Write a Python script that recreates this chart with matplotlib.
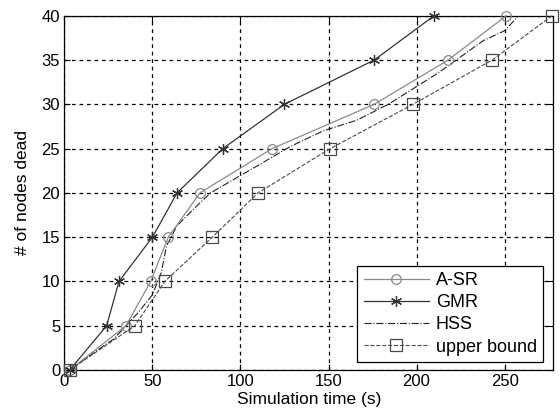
import matplotlib
matplotlib.use("Agg")
import matplotlib.pyplot as plt

plt.rcParams["font.family"] = ["Liberation Sans", "DejaVu Sans"]

# data
asr_t = [3, 35, 49, 59, 77, 118, 176, 218, 251]
asr_n = [0, 5, 10, 15, 20, 25, 30, 35, 40]

gmr_t = [3, 24, 31, 50, 64, 90, 125, 176, 210]
gmr_n = [0, 5, 10, 15, 20, 25, 30, 35, 40]

hss_t = [3, 17, 28, 42, 50, 55, 58, 64, 74, 83, 110, 128, 147, 166, 184, 212, 238, 250, 258]
hss_n = [0, 2, 3.5, 6.5, 8.5, 11, 14, 16.3, 18.3, 20, 23.1, 25.2, 27, 28.2, 30, 33.5, 37.2, 38.3, 40]

ub_t = [3, 40, 57, 84, 110, 151, 198, 243, 277]
ub_n = [0, 5, 10, 15, 20, 25, 30, 35, 40]

fig = plt.figure(figsize=(5.6, 4.2), dpi=100)
ax = fig.add_axes([0.115, 0.119, 0.8725, 0.8436])

ax.plot(asr_t, asr_n, "-", color="#8a8a8a", lw=0.9, marker="o", ms=7,
        mfc="none", mec="#8a8a8a", mew=0.9, label="A-SR", clip_on=False, zorder=4)
ax.plot(gmr_t, gmr_n, "-", color="#333333", lw=0.9, marker=(6, 2, 0), ms=8,
        mec="#333333", mew=0.9, label="GMR", clip_on=False, zorder=4)
ax.plot(hss_t, hss_n, "-.", color="#222222", lw=0.8, label="HSS", zorder=3)
ax.plot(ub_t, ub_n, "--", color="#4a4a4a", lw=0.8, marker="s", ms=8,
        mfc="none", mec="#4a4a4a", mew=0.9, label="upper bound", clip_on=False, zorder=4)

ax.set_xlim(0, 277.5)
ax.set_ylim(0, 40)
ax.set_xticks([0, 50, 100, 150, 200, 250])
ax.set_yticks(range(0, 41, 5))
ax.grid(True, color="black", linestyle=(0, (3, 3)), linewidth=0.9)
ax.tick_params(direction="in", top=True, right=True, length=4, labelsize=12, pad=3)
for s in ax.spines.values():
    s.set_linewidth(0.9)

ax.set_xlabel("Simulation time (s)", fontsize=12.5, labelpad=2)
ax.set_ylabel("# of nodes dead", fontsize=12.5, labelpad=8)

leg = ax.legend(loc="lower right", bbox_to_anchor=(0.98, 0.023), borderaxespad=0,
                fontsize=13, fancybox=False, framealpha=1, edgecolor="black",
                handlelength=3.6, labelspacing=0.28, handletextpad=0.4,
                borderpad=0.35)
leg.get_frame().set_linewidth(0.9)

fig.savefig("out.png", dpi=100)
